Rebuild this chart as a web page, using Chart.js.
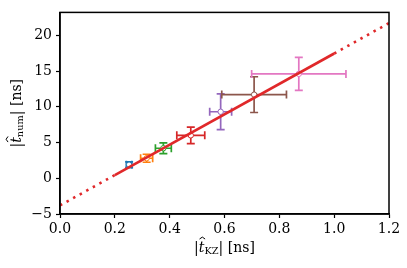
<!DOCTYPE html>
<html><head><meta charset="utf-8">
<script src="https://cdn.jsdelivr.net/npm/chart.js@4/dist/chart.umd.min.js"></script>
<style>html,body{margin:0;padding:0;background:#fff}#wrap{width:407px;height:268px}</style>
</head><body><div id="wrap"><canvas id="c" width="407" height="268"></canvas></div>
<script>
// Data
const tKZ   = [0.252, 0.316, 0.377, 0.477, 0.586, 0.708, 0.871];
const tNum  = [1.9, 2.8, 4.2, 6.0, 9.3, 11.7, 14.6];
const xErr  = [0.010, 0.022, 0.029, 0.051, 0.040, 0.118, 0.172];
const yErr  = [0.4, 0.56, 0.75, 1.16, 2.5, 2.5, 2.3];
const pointColors = ['#1f77b4','#ff7f0e','#2ca02c','#d62728','#9467bd','#8c564b','#e377c2'];
const fitX = [0.0, 0.2, 1.0, 1.2];
const fitY = [-3.8, 0.45, 17.45, 21.7];
const xTicks = [0.0, 0.2, 0.4, 0.6, 0.8, 1.0, 1.2];
const yTicks = [-5, 0, 5, 10, 15, 20];

const SERIF = "'DejaVu Serif', serif";

const errorBars = {
  id: 'errorBars',
  beforeDatasetsDraw(chart) {
    const ctx = chart.ctx, xs = chart.scales.x, ys = chart.scales.y;
    ctx.save();
    ctx.lineWidth = 1.7;
    for (let i = 0; i < tKZ.length; i++) {
      const px = xs.getPixelForValue(tKZ[i]), py = ys.getPixelForValue(tNum[i]);
      const x0 = xs.getPixelForValue(tKZ[i] - xErr[i]), x1 = xs.getPixelForValue(tKZ[i] + xErr[i]);
      const y0 = ys.getPixelForValue(tNum[i] - yErr[i]), y1 = ys.getPixelForValue(tNum[i] + yErr[i]);
      const cap = 4;
      ctx.strokeStyle = pointColors[i];
      ctx.beginPath();
      ctx.moveTo(x0, py); ctx.lineTo(x1, py);
      ctx.moveTo(px, y0); ctx.lineTo(px, y1);
      ctx.moveTo(x0, py - cap); ctx.lineTo(x0, py + cap);
      ctx.moveTo(x1, py - cap); ctx.lineTo(x1, py + cap);
      ctx.moveTo(px - cap, y0); ctx.lineTo(px + cap, y0);
      ctx.moveTo(px - cap, y1); ctx.lineTo(px + cap, y1);
      ctx.stroke();
    }
    ctx.restore();
  }
};

function drawMath(ctx, parts, size) {
  let w = 0;
  const m = parts.map(p => {
    const fs = p.sub ? size * 0.7 : size;
    const font = (p.italic ? 'italic ' : '') + fs + 'px ' + SERIF;
    ctx.font = font;
    const pw = ctx.measureText(p.t).width;
    w += pw;
    return {p, fs, pw, font};
  });
  let x = -w / 2;
  for (const it of m) {
    ctx.font = it.font;
    ctx.fillText(it.p.t, x, it.p.sub ? size * 0.28 : 0);
    if (it.p.hat) {
      const cx = x + it.pw * 0.62, top = -size * 0.78, hw = size * 0.2;
      ctx.save();
      ctx.lineWidth = 1;
      ctx.strokeStyle = ctx.fillStyle;
      ctx.beginPath();
      ctx.moveTo(cx - hw, top + size * 0.14);
      ctx.lineTo(cx, top);
      ctx.lineTo(cx + hw, top + size * 0.14);
      ctx.stroke();
      ctx.restore();
    }
    x += it.pw;
  }
}

const frameAndTitles = {
  id: 'frameAndTitles',
  afterDraw(chart) {
    const ctx = chart.ctx, a = chart.chartArea;
    ctx.save();
    ctx.strokeStyle = '#000';
    ctx.lineWidth = 1.5;
    ctx.strokeRect(a.left, a.top, a.right - a.left, a.bottom - a.top);
    ctx.fillStyle = '#000';
    ctx.textBaseline = 'middle';
    ctx.textAlign = 'left';
    ctx.save();
    ctx.translate((a.left + a.right) / 2, 248);
    drawMath(ctx, [{t:'|'},{t:'t',italic:true,hat:true},{t:'KZ',sub:true},{t:'| [ns]'}], 14);
    ctx.restore();
    ctx.save();
    ctx.translate(17, (a.top + a.bottom) / 2);
    ctx.rotate(-Math.PI / 2);
    drawMath(ctx, [{t:'|'},{t:'t',italic:true,hat:true},{t:'num',sub:true},{t:'| [ns]'}], 14);
    ctx.restore();
    ctx.restore();
  }
};

const fitSeg = (ctx) => (ctx.p0DataIndex === 1 ? undefined : [2.5, 5]);

new Chart(document.getElementById('c'), {
  type: 'scatter',
  data: {
    datasets: [
      {
        type: 'line',
        data: fitX.map((x, i) => ({x, y: fitY[i]})),
        borderColor: '#e0282a',
        borderWidth: 2.6,
        pointRadius: 0,
        fill: false,
        tension: 0,
        segment: { borderDash: fitSeg }
      },
      {
        data: tKZ.map((x, i) => ({x, y: tNum[i]})),
        pointRadius: 2.7,
        pointBorderWidth: 1,
        pointBackgroundColor: '#fff',
        pointBorderColor: pointColors,
        backgroundColor: '#fff',
        borderColor: pointColors
      }
    ]
  },
  options: {
    responsive: false,
    animation: false,
    devicePixelRatio: 1,
    layout: { padding: { left: 0, right: 18, top: 12, bottom: 0 } },
    plugins: { legend: { display: false }, tooltip: { enabled: false } },
    scales: {
      x: {
        type: 'linear', min: 0, max: 1.2,
        afterFit(s) { s.height = 54; },
        afterBuildTicks(s) { s.ticks = xTicks.map(v => ({value: v})); },
        grid: { drawOnChartArea: false, tickLength: 4, tickColor: '#000', tickWidth: 1.2 },
        border: { display: true, color: '#000', width: 1.5 },
        ticks: { color: '#000', padding: 3, maxRotation: 0, font: { family: SERIF, size: 14 },
                 callback: v => Number(v).toFixed(1) }
      },
      y: {
        type: 'linear', min: -5, max: 23.2,
        afterFit(s) { s.width = 60; },
        afterBuildTicks(s) { s.ticks = yTicks.map(v => ({value: v})); },
        grid: { drawOnChartArea: false, tickLength: 4, tickColor: '#000', tickWidth: 1.2 },
        border: { display: true, color: '#000', width: 1.5 },
        ticks: { color: '#000', padding: 4, font: { family: SERIF, size: 14 },
                 callback: v => (v < 0 ? '\u2212' + Math.abs(v) : String(v)) }
      }
    }
  },
  plugins: [errorBars, frameAndTitles]
});
</script></body></html>
